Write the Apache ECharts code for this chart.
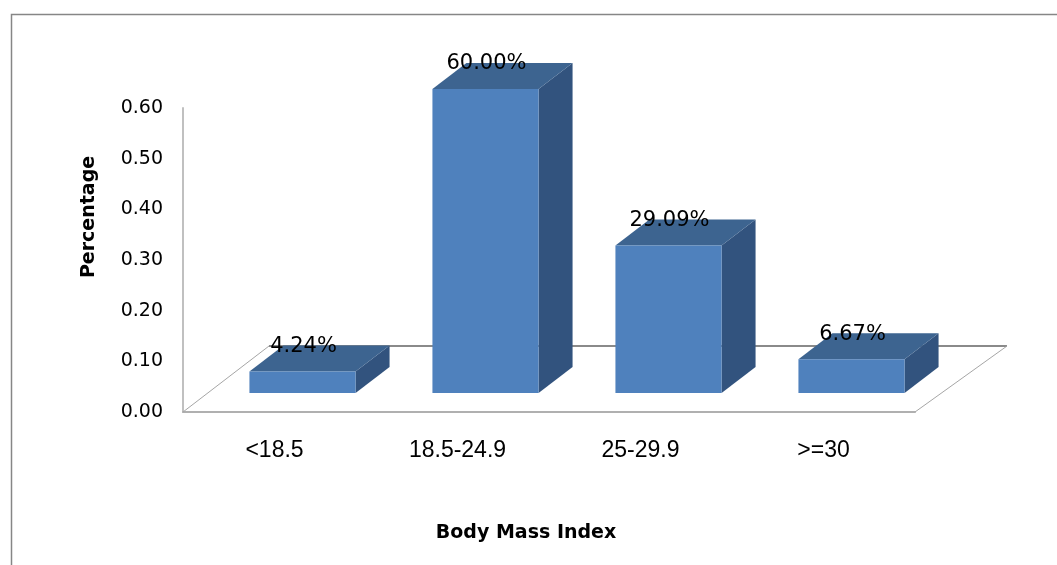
<!DOCTYPE html>
<html>
<head>
<meta charset="utf-8">
<script src="https://cdn.jsdelivr.net/npm/echarts@6/dist/echarts.min.js"></script>
<style>
html,body{margin:0;padding:0;background:#fff;}
#chart{width:1057px;height:565px;}
</style>
</head>
<body>
<div id="chart"></div>
<script>
var categories = ['<18.5', '18.5-24.9', '25-29.9', '>=30'];
var values = [0.0424, 0.6000, 0.2909, 0.0667];
var yTicks = [0, 0.1, 0.2, 0.3, 0.4, 0.5, 0.6];

var FONT = 'DejaVu Sans';
// 3D projection offsets (pixels)
var FLOOR_DX = 86, FLOOR_DY = -66;
var FRONT_DX = 28, FRONT_DY = -19;
var BAR_DX = 34, BAR_DY = -26;
var BAR_W = 0.58;

var chart = echarts.init(document.getElementById('chart'));

function renderFloor(params, api) {
  var cs = params.coordSys;
  var x0 = cs.x, x1 = cs.x + cs.width, yb = cs.y + cs.height;
  return {
    type: 'group',
    children: [
      {type: 'line', shape: {x1: x0 + FLOOR_DX, y1: yb + FLOOR_DY, x2: x1 + FLOOR_DX + 6, y2: yb + FLOOR_DY},
       style: {stroke: '#8a8a8a', lineWidth: 2}},
      {type: 'line', shape: {x1: x0, y1: yb, x2: x0 + FLOOR_DX, y2: yb + FLOOR_DY},
       style: {stroke: '#a6a6a6', lineWidth: 1}},
      {type: 'line', shape: {x1: x1, y1: yb, x2: x1 + FLOOR_DX + 6, y2: yb + FLOOR_DY},
       style: {stroke: '#a6a6a6', lineWidth: 1}}
    ]
  };
}

function renderBar(params, api) {
  var idx = api.value(0), v = api.value(1);
  var base = api.coord([idx, 0]);
  var top = api.coord([idx, v]);
  var band = api.size([1, 0])[0];
  var w = band * BAR_W;
  var cx = base[0] + FRONT_DX;
  var fx = cx - w / 2;
  var by = base[1] + FRONT_DY;
  var ty = top[1] + FRONT_DY;
  var label = (v * 100).toFixed(2) + '%';
  return {
    type: 'group',
    children: [
      {type: 'polygon', shape: {points: [[fx + w, ty], [fx + w + BAR_DX, ty + BAR_DY], [fx + w + BAR_DX, by + BAR_DY], [fx + w, by]]},
       style: {fill: '#32537e'}},
      {type: 'polygon', shape: {points: [[fx, ty], [fx + BAR_DX, ty + BAR_DY], [fx + w + BAR_DX, ty + BAR_DY], [fx + w, ty]]},
       style: {fill: '#3d6490'}},
      {type: 'rect', shape: {x: fx, y: ty, width: w, height: by - ty},
       style: {fill: '#4f81bd'}},
      {type: 'text', z2: 100, style: {text: label, x: cx + 1, y: ty + BAR_DY + 1, align: 'center', verticalAlign: 'middle',
        fill: '#000', font: '21px "DejaVu Sans"'}}
    ]
  };
}

chart.setOption({
  animation: false,
  backgroundColor: '#fff',
  graphic: [{
    type: 'rect', left: 9, top: 12, shape: {x: 0, y: 0, width: 1100, height: 600},
    style: {fill: 'none', stroke: '#868686', lineWidth: 1.5}, silent: true
  }],
  grid: {left: 183, right: 142, top: 108, bottom: 153},
  xAxis: {
    type: 'category',
    data: categories,
    name: 'Body Mass Index',
    nameLocation: 'middle',
    nameGap: 112,
    nameTextStyle: {fontFamily: FONT, fontSize: 19, fontWeight: 'bold', color: '#000', padding: [0, 46, 0, 0]},
    axisLine: {show: true, lineStyle: {color: '#b0b0b0', width: 2}},
    axisTick: {show: false},
    axisLabel: {fontFamily: 'Liberation Sans', fontSize: 23, color: '#000', margin: 27},
    splitLine: {show: false}
  },
  yAxis: {
    type: 'value',
    min: yTicks[0],
    max: yTicks[yTicks.length - 1],
    interval: 0.1,
    name: 'Percentage',
    nameLocation: 'middle',
    nameRotate: 90,
    nameGap: 84,
    nameTextStyle: {fontFamily: FONT, fontSize: 19, fontWeight: 'bold', color: '#000', padding: [0, 0, 0, 86]},
    axisLine: {show: true, lineStyle: {color: '#c0c0c0', width: 2}},
    axisTick: {show: false},
    splitLine: {show: false},
    axisLabel: {fontFamily: FONT, fontSize: 19, color: '#000', margin: 20, padding: [6, 0, 0, 0],
      formatter: function (v) { return v.toFixed(2); }}
  },
  series: [
    {type: 'custom', renderItem: renderFloor, data: [[0, 0]], clip: false, z: 1, silent: true},
    {type: 'custom', renderItem: renderBar, data: values.map(function (v, i) { return [i, v]; }),
     clip: false, z: 2, silent: true,
     encode: {x: 0, y: 1}}
  ]
});
</script>
</body>
</html>
